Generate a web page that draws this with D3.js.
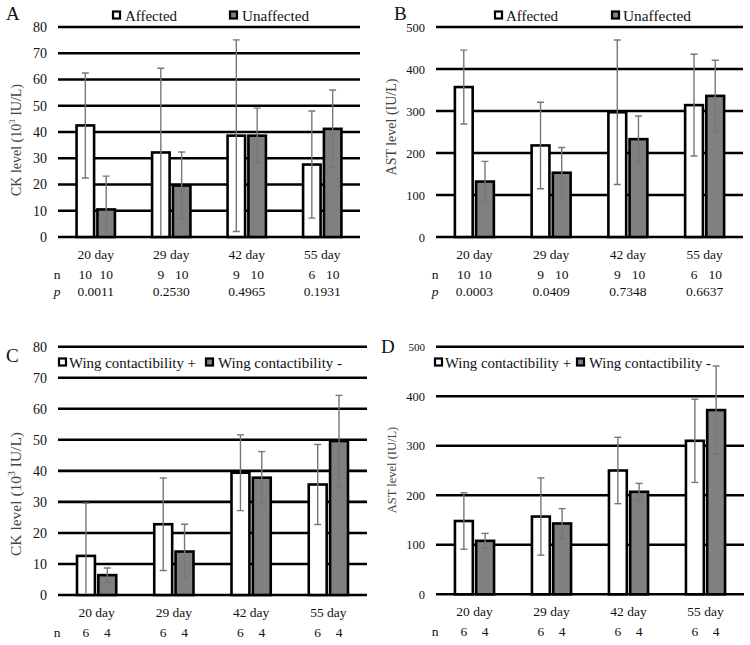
<!DOCTYPE html>
<html><head><meta charset="utf-8">
<script src="https://cdn.jsdelivr.net/npm/d3@7"></script>
<style>body{margin:0;background:#fff;} svg text{font-family:"Liberation Serif","Times New Roman",Times,serif !important;}</style>
</head><body><svg id="c" width="750" height="645" font-family="Liberation Serif, Times New Roman, serif"></svg>
<script>
const categories = ["20 day", "29 day", "42 day", "55 day"];

const ckAffected = [42.5, 32.2, 38.6, 27.6];
const ckAffectedSD = [20, 32.1, 36.5, 20.4];
const ckUnaffected = [10.5, 19.6, 38.6, 41.2];
const ckUnaffectedSD = [12.7, 12.8, 10.5, 14.8];

const astAffected = [357, 218, 297, 314];
const astAffectedSD = [88, 103, 172, 121];
const astUnaffected = [132, 153, 233, 336];
const astUnaffectedSD = [48, 60, 55, 85];

const ckWingPlus = [12.6, 22.8, 39.4, 35.6];
const ckWingPlusSD = [17, 14.9, 12.2, 12.9];
const ckWingMinus = [6.4, 14.0, 37.8, 49.6];
const ckWingMinusSD = [2.3, 8.8, 8.4, 14.7];

const astWingPlus = [148, 157, 250, 310];
const astWingPlusSD = [57, 78, 67, 84];
const astWingMinus = [108, 143, 207, 372];
const astWingMinusSD = [15, 30, 17, 89];

const nAffected = ["10", "9", "9", "6"];
const nUnaffected = ["10", "10", "10", "10"];
const pAB_A = ["0.0011", "0.2530", "0.4965", "0.1931"];
const pAB_B = ["0.0003", "0.0409", "0.7348", "0.6637"];
const nWingPlus = ["6", "6", "6", "6"];
const nWingMinus = ["4", "4", "4", "4"];

const ckTicks = [0, 10, 20, 30, 40, 50, 60, 70, 80];
const astTicks = [0, 100, 200, 300, 400, 500];

const legendAB = ["Affected", "Unaffected"];
const legendCD = ["Wing contactibility +", "Wing contactibility -"];

const svg = d3.select("#c");
const GRAY = "#808080";
const FONT = "Liberation Serif, Times New Roman, serif";

function panel(cfg) {
  const g = svg.append("g");
  const x = d3.scaleBand().domain(categories).range([cfg.left, cfg.right]);
  const y = d3.scaleLinear().domain([0, cfg.max]).range([cfg.bottom, cfg.top]);
  const bw = x.bandwidth() * 0.232;
  const off = x.bandwidth() * 0.138;

  g.selectAll(".grid").data(cfg.ticks).enter().append("line")
    .attr("x1", cfg.left).attr("x2", cfg.right)
    .attr("y1", d => y(d)).attr("y2", d => y(d))
    .attr("stroke", "#000").attr("stroke-width", 2.6);

  const axis = d3.axisLeft(y).tickValues(cfg.ticks).tickSize(0).tickPadding(11);
  const ag = g.append("g").attr("transform", `translate(${cfg.left},0)`).call(axis);
  ag.attr("font-family", FONT);
  ag.select(".domain").remove();
  ag.selectAll("text").attr("font-size", cfg.tickSize).attr("fill", "#111").attr("font-family", FONT);
  if (cfg.smallTop) ag.selectAll("text").filter(d => d === cfg.max).attr("font-size", 11);

  const series = [
    {vals: cfg.s1, sd: cfg.sd1, fill: "#fff", dx: -off},
    {vals: cfg.s2, sd: cfg.sd2, fill: GRAY, dx: off}
  ];
  const clipId = "clip" + cfg.id;
  svg.append("clipPath").attr("id", clipId).append("rect")
    .attr("x", cfg.left).attr("y", 0).attr("width", cfg.right - cfg.left).attr("height", y(0) - 1.3);
  series.forEach(s => {
    g.selectAll(null).data(categories).enter().append("rect")
      .attr("x", d => x(d) + x.bandwidth() / 2 + s.dx - bw / 2)
      .attr("y", (d, i) => y(s.vals[i]))
      .attr("width", bw)
      .attr("height", (d, i) => y(0) - y(s.vals[i]))
      .attr("fill", s.fill).attr("stroke", "#000").attr("stroke-width", 2.6);
  });
  series.forEach(s => {
    const eg = g.append("g").attr("clip-path", `url(#${clipId})`);
    categories.forEach((c, i) => {
      const cx = x(c) + x.bandwidth() / 2 + s.dx;
      const hi = y(s.vals[i] + s.sd[i]), lo = y(s.vals[i] - s.sd[i]);
      eg.append("line").attr("x1", cx).attr("x2", cx).attr("y1", hi).attr("y2", lo)
        .attr("stroke", "#777").attr("stroke-width", 1.4);
      [hi, lo].forEach(yy => eg.append("line").attr("x1", cx - 3.5).attr("x2", cx + 3.5)
        .attr("y1", yy).attr("y2", yy).attr("stroke", "#777").attr("stroke-width", 1.4));
    });
  });

  g.selectAll(null).data(categories).enter().append("text")
    .attr("x", d => x(d) + x.bandwidth() / 2).attr("y", cfg.bottom + 22)
    .attr("text-anchor", "middle").attr("font-size", 13.5).attr("font-family", FONT)
    .attr("fill", "#111").text(d => d);

  const ny = cfg.bottom + 42;
  g.append("text").attr("x", cfg.left - 1).attr("y", ny).attr("text-anchor", "middle")
    .attr("font-size", 13.5).attr("font-family", FONT).attr("fill", "#111").text("n");
  [[cfg.n1, -off], [cfg.n2, off]].forEach(([arr, dx]) => {
    g.selectAll(null).data(categories).enter().append("text")
      .attr("x", d => x(d) + x.bandwidth() / 2 + dx).attr("y", ny)
      .attr("text-anchor", "middle").attr("font-size", 13.5).attr("font-family", FONT).attr("fill", "#111")
      .text((d, i) => arr[i]);
  });
  if (cfg.p) {
    const py = cfg.bottom + 59;
    g.append("text").attr("x", cfg.left - 1).attr("y", py).attr("text-anchor", "middle")
      .attr("font-size", 13.5).attr("font-family", FONT).attr("font-style", "italic").attr("fill", "#111").text("p");
    g.selectAll(null).data(categories).enter().append("text")
      .attr("x", d => x(d) + x.bandwidth() / 2).attr("y", py)
      .attr("text-anchor", "middle").attr("font-size", 13.5).attr("font-family", FONT).attr("fill", "#111")
      .text((d, i) => cfg.p[i]);
  }

  const t = g.append("text").attr("transform", `translate(${cfg.titleX},${cfg.titleY}) rotate(-90)`)
    .attr("text-anchor", "middle").attr("font-size", cfg.titleSize).attr("font-family", FONT).attr("fill", "#444");
  cfg.title.forEach(part => {
    const ts = t.append("tspan").text(part.t);
    if (part.sup) ts.attr("font-size", cfg.titleSize * 0.62).attr("dy", -6);
    if (part.after) ts.attr("dy", 6);
  });

  g.append("text").attr("x", cfg.letterX).attr("y", cfg.letterY).attr("font-size", 19)
    .attr("font-family", FONT).attr("fill", "#111").text(cfg.letter);

  cfg.legend.forEach((lg, i) => {
    g.append("rect").attr("x", cfg.legSq[i]).attr("y", cfg.legY - 9.5).attr("width", 7).attr("height", 7)
      .attr("fill", i === 0 ? "#fff" : GRAY).attr("stroke", "#000").attr("stroke-width", 2.2);
    g.append("text").attr("x", cfg.legTx[i]).attr("y", cfg.legY).attr("font-size", 15)
      .attr("font-family", FONT).attr("fill", "#111")
      .attr("textLength", cfg.legW[i]).attr("lengthAdjust", "spacingAndGlyphs").text(lg);
  });
}

panel({id: "A", left: 58, right: 360, top: 27, bottom: 237, max: 80, ticks: ckTicks, tickSize: 14,
  s1: ckAffected, sd1: ckAffectedSD, s2: ckUnaffected, sd2: ckUnaffectedSD,
  n1: nAffected, n2: nUnaffected, p: pAB_A,
  title: [{t: "CK level (10"}, {t: "3", sup: true}, {t: " IU/L)", after: true}], titleX: 21, titleY: 140, titleSize: 14,
  letter: "A", letterX: 6, letterY: 20, legend: legendAB,
  legSq: [113, 230], legTx: [125, 242], legW: [52, 67], legY: 21});

panel({id: "B", left: 436, right: 743, top: 27, bottom: 237, max: 500, ticks: astTicks, tickSize: 12.5,
  s1: astAffected, sd1: astAffectedSD, s2: astUnaffected, sd2: astUnaffectedSD,
  n1: nAffected, n2: nUnaffected, p: pAB_B,
  title: [{t: "AST level (IU/L)"}], titleX: 396, titleY: 127, titleSize: 14,
  letter: "B", letterX: 394, letterY: 20, legend: legendAB,
  legSq: [495, 612], legTx: [506, 623], legW: [52, 68], legY: 21});

panel({id: "C", left: 58, right: 367, top: 346.7, bottom: 595, max: 80, ticks: ckTicks, tickSize: 14,
  s1: ckWingPlus, sd1: ckWingPlusSD, s2: ckWingMinus, sd2: ckWingMinusSD,
  n1: nWingPlus, n2: nWingMinus, p: null,
  title: [{t: "CK level (10"}, {t: "3", sup: true}, {t: " IU/L)", after: true}], titleX: 21, titleY: 494, titleSize: 15.5,
  letter: "C", letterX: 6, letterY: 362, legend: legendCD,
  legSq: [59, 206], legTx: [69, 218], legW: [127, 124], legY: 368});

panel({id: "D", left: 436, right: 744, top: 346.7, bottom: 594.3, max: 500, ticks: astTicks, tickSize: 12.5, smallTop: true,
  s1: astWingPlus, sd1: astWingPlusSD, s2: astWingMinus, sd2: astWingMinusSD,
  n1: nWingPlus, n2: nWingMinus, p: null,
  title: [{t: "AST level (IU/L)"}], titleX: 396, titleY: 470, titleSize: 12.5,
  letter: "D", letterX: 381, letterY: 353, legend: legendCD,
  legSq: [435, 577], legTx: [445, 589], legW: [126, 122], legY: 368});
</script></body></html>
